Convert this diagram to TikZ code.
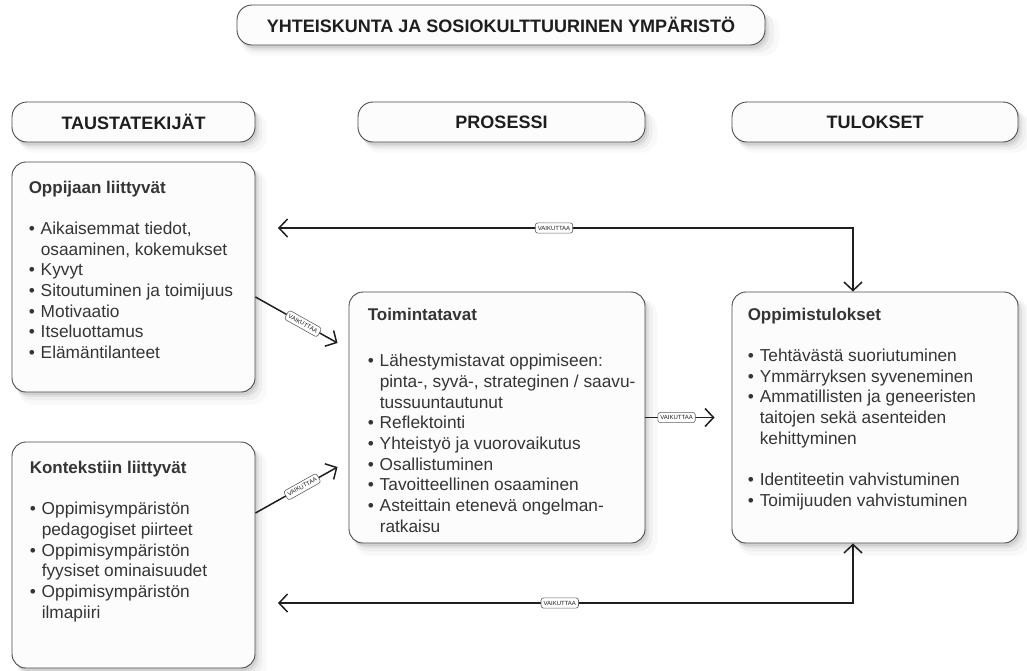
\documentclass[tikz,border=0pt]{standalone}
\usepackage{fontspec}
\setmainfont{Liberation Sans}
\usetikzlibrary{arrows.meta,shadows}
\definecolor{ink}{HTML}{1E1E1E}
\definecolor{boxfill}{HTML}{FCFCFD}
\newcommand{\bu}{\makebox[12pt][l]{•}}
\newcommand{\cont}{\hspace*{12pt}}
\newcommand{\ttl}[1]{{\bfseries\fontsize{17}{20.7}\selectfont #1}}
\tikzset{vtip/.tip={Straight Barb[length=8.5pt,width=18pt]}}

\begin{document}
\begin{tikzpicture}[x=1pt,y=-1pt,
    softshadow/.style={
      general shadow={fill=black,opacity=.025,shadow xshift=9pt,shadow yshift=-10pt,shadow scale=1.02},
      general shadow={fill=black,opacity=.04,shadow xshift=6pt,shadow yshift=-7pt,shadow scale=1.01},
      general shadow={fill=black,opacity=.06,shadow xshift=4pt,shadow yshift=-5pt},
      general shadow={fill=black,opacity=.07,shadow xshift=2pt,shadow yshift=-3pt}},
    pill/.style={draw=ink!80,fill=boxfill,line width=0.9pt,rounded corners=15pt,
      minimum height=40pt,text=ink,font=\bfseries\fontsize{18}{21}\selectfont,softshadow},
    panel/.style={draw=ink!80,fill=boxfill,line width=0.9pt,rounded corners=14pt,softshadow},
    txt/.style={anchor=north west,align=left,inner sep=0pt,text=ink!90,
      font=\fontsize{17.3}{20.7}\selectfont},
    arr/.style={draw=ink,line width=1.5pt,-vtip},
    arrtwo/.style={draw=ink,line width=1.5pt,vtip-vtip},
    lbl/.style={draw=ink!70,fill=white,line width=0.6pt,rounded corners=2.5pt,
      inner xsep=2.5pt,inner ysep=3pt,text=ink,font=\fontsize{6}{7}\selectfont}]
  \useasboundingbox (0,0) rectangle (1027,670);

  % otsikot
  \node[pill,minimum width=528pt] (yht) at (501,25) {YHTEISKUNTA JA SOSIOKULTTUURINEN YMPÄRISTÖ};
  \foreach \t/\x/\w [count=\i from 1] in {TAUSTATEKIJÄT/133.5/243,PROSESSI/501.5/287,TULOKSET/875/286}
    {\node[pill,minimum width=\w pt] (h\i) at (\x,122) {\t};}

  % laatikot
  \node[panel,minimum width=243pt,minimum height=230pt] (oppija) at (133.5,277) {};
  \node[panel,minimum width=243pt,minimum height=226pt] (konteksti) at (133.5,555) {};
  \node[panel,minimum width=296pt,minimum height=251pt] (toimi) at (497,417.5) {};
  \node[panel,minimum width=286pt,minimum height=251pt] (tulos) at (875,417.5) {};

  \node[txt] (oppijat) at ([shift={(17pt,-19pt)}]oppija.north west) {\ttl{Oppijaan liittyvät}\\[20.7pt]
    \bu Aikaisemmat tiedot,\\
    \cont osaaminen, kokemukset\\
    \bu Kyvyt\\
    \bu Sitoutuminen ja toimijuus\\
    \bu Motivaatio\\
    \bu Itseluottamus\\
    \bu Elämäntilanteet};
  \node[txt] (kontekstit) at ([shift={(18pt,-19pt)}]konteksti.north west) {\ttl{Kontekstiin liittyvät}\\[21pt]
    \bu Oppimisympäristön\\
    \cont pedagogiset piirteet\\
    \bu Oppimisympäristön\\
    \cont fyysiset ominaisuudet\\
    \bu Oppimisympäristön\\
    \cont ilmapiiri};
  \node[txt] (toimit) at ([shift={(19pt,-16pt)}]toimi.north west) {\ttl{Toimintatavat}\\[26pt]
    \bu Lähestymistavat oppimiseen:\\
    \cont pinta-, syvä-, strateginen / saavu-\\
    \cont tussuuntautunut\\
    \bu Reflektointi\\
    \bu Yhteistyö ja vuorovaikutus\\
    \bu Osallistuminen\\
    \bu Tavoitteellinen osaaminen\\
    \bu Asteittain etenevä ongelman-\\
    \cont ratkaisu};
  \node[txt] (tulost) at ([shift={(16pt,-16pt)}]tulos.north west) {\ttl{Oppimistulokset}\\[20.7pt]
    \bu Tehtävästä suoriutuminen\\
    \bu Ymmärryksen syveneminen\\
    \bu Ammatillisten ja geneeristen\\
    \cont taitojen sekä asenteiden\\
    \cont kehittyminen\\[20.7pt]
    \bu Identiteetin vahvistuminen\\
    \bu Toimijuuden vahvistuminen};

  % nuolet
  \coordinate (tl) at (278,228);
  \coordinate (tc) at (853,228);
  \coordinate (bl) at (278,603);
  \coordinate (bc) at (853,603);
  \draw[arr] ([yshift=-20pt]oppija.east) -- node[lbl,sloped,pos=.58] (v1) {VAIKUTTAA} ([shift={(-11pt,74.5pt)}]toimi.west);
  \draw[arr] ([yshift=42pt]konteksti.east) -- node[lbl,sloped,pos=.57] (v2) {VAIKUTTAA} ([shift={(-11pt,-49.5pt)}]toimi.west);
  \draw[arr] (toimi.east) -- node[lbl,pos=.45] (v3) {VAIKUTTAA} ([xshift=-17pt]tulos.west);
  \draw[arrtwo] (tl) -- node[lbl,pos=.48] (v4) {VAIKUTTAA} (tc) -- (tc |- tulos.north);
  \draw[arrtwo] (bl) -- node[lbl,pos=.49] (v5) {VAIKUTTAA} (bc) -- (bc |- tulos.south);
\end{tikzpicture}
\end{document}
